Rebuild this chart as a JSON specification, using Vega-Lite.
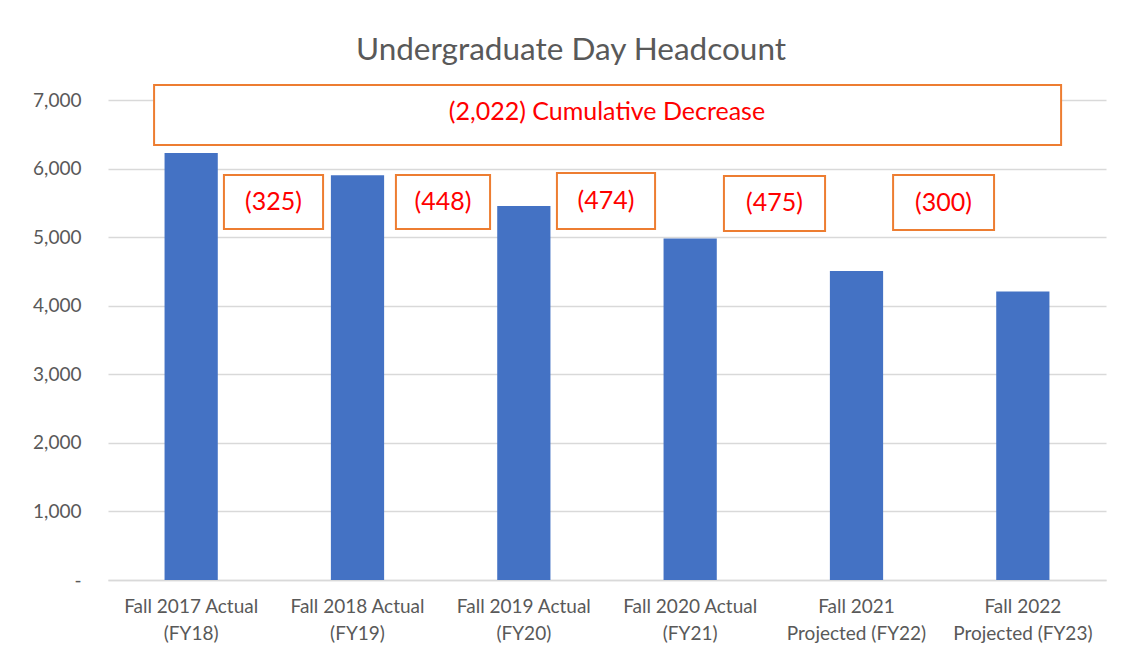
{
  "$schema": "https://vega.github.io/schema/vega-lite/v6.json",
  "autosize": "none",
  "width": 998,
  "height": 480,
  "padding": {"left": 108, "top": 100, "right": 16, "bottom": 80},
  "background": "white",
  "config": {
    "view": {"stroke": null},
    "font": "Lato"
  },
  "title": {
    "text": "Undergraduate Day Headcount",
    "font": "Lato",
    "fontSize": 31.5,
    "fontWeight": "normal",
    "color": "#595959",
    "anchor": "middle",
    "frame": "group",
    "dx": -36,
    "dy": 48,
    "offset": 40,
    "baseline": "alphabetic"
  },
  "datasets": {
    "bars": [
      {"term": "Fall 2017 Actual|(FY18)", "headcount": 6228},
      {"term": "Fall 2018 Actual|(FY19)", "headcount": 5903},
      {"term": "Fall 2019 Actual|(FY20)", "headcount": 5455},
      {"term": "Fall 2020 Actual|(FY21)", "headcount": 4981},
      {"term": "Fall 2021|Projected (FY22)", "headcount": 4506},
      {"term": "Fall 2022|Projected (FY23)", "headcount": 4206}
    ],
    "notes": [
      {"label": "(2,022) Cumulative Decrease", "x1": 0.277, "x2": 5.73, "y1": 6344, "y2": 7219, "cx": 3.0, "cy": 6830},
      {"label": "(325)", "x1": 0.697, "x2": 1.293, "y1": 5119, "y2": 5906, "cx": 0.995, "cy": 5512},
      {"label": "(448)", "x1": 1.731, "x2": 2.297, "y1": 5119, "y2": 5906, "cx": 2.014, "cy": 5512},
      {"label": "(474)", "x1": 2.699, "x2": 3.289, "y1": 5119, "y2": 5935, "cx": 2.994, "cy": 5527},
      {"label": "(475)", "x1": 3.703, "x2": 4.311, "y1": 5090, "y2": 5892, "cx": 4.007, "cy": 5491},
      {"label": "(300)", "x1": 4.72, "x2": 5.327, "y1": 5105, "y2": 5906, "cx": 5.023, "cy": 5505}
    ]
  },
  "layer": [
    {
      "data": {"name": "bars"},
      "mark": {"type": "bar", "color": "#4472C4"},
      "encoding": {
        "x": {
          "field": "term",
          "type": "nominal",
          "sort": null,
          "scale": {"paddingInner": 0.68, "paddingOuter": 0.34},
          "axis": {
            "title": null,
            "labelExpr": "split(datum.label, '|')",
            "labelAngle": 0,
            "labelFont": "Lato",
            "labelFontSize": 19,
            "labelColor": "#595959",
            "labelLineHeight": 27,
            "labelPadding": 17,
            "ticks": false,
            "domainColor": "#D9D9D9",
            "domainWidth": 1.5,
            "labelLimit": 300
          }
        },
        "y": {
          "field": "headcount",
          "type": "quantitative",
          "scale": {"domain": [0, 7000], "nice": false},
          "axis": {
            "title": null,
            "values": [0, 1000, 2000, 3000, 4000, 5000, 6000, 7000],
            "labelExpr": "datum.value == 0 ? '-\u00a0\u00a0\u00a0' : format(datum.value, ',')",
            "labelFont": "Lato",
            "labelFontSize": 19,
            "labelColor": "#595959",
            "labelPadding": 27,
            "ticks": false,
            "domain": false,
            "grid": true,
            "gridColor": "#D9D9D9",
            "gridWidth": 1.5
          }
        }
      }
    },
    {
      "data": {"name": "notes"},
      "mark": {"type": "rect", "fill": "white", "stroke": "#ED7D31", "strokeWidth": 2},
      "encoding": {
        "x": {"field": "x1", "type": "quantitative", "scale": {"domain": [0, 6], "nice": false, "zero": false}, "axis": null},
        "x2": {"field": "x2"},
        "y": {"field": "y1", "type": "quantitative"},
        "y2": {"field": "y2"}
      }
    },
    {
      "data": {"name": "notes"},
      "mark": {"type": "text", "color": "#FF0000", "font": "Lato", "fontSize": 25, "align": "center", "baseline": "middle"},
      "encoding": {
        "x": {"field": "cx", "type": "quantitative", "scale": {"domain": [0, 6], "nice": false, "zero": false}, "axis": null},
        "y": {"field": "cy", "type": "quantitative"},
        "text": {"field": "label"}
      }
    }
  ],
  "resolve": {"scale": {"x": "independent"}, "axis": {"x": "independent"}}
}
